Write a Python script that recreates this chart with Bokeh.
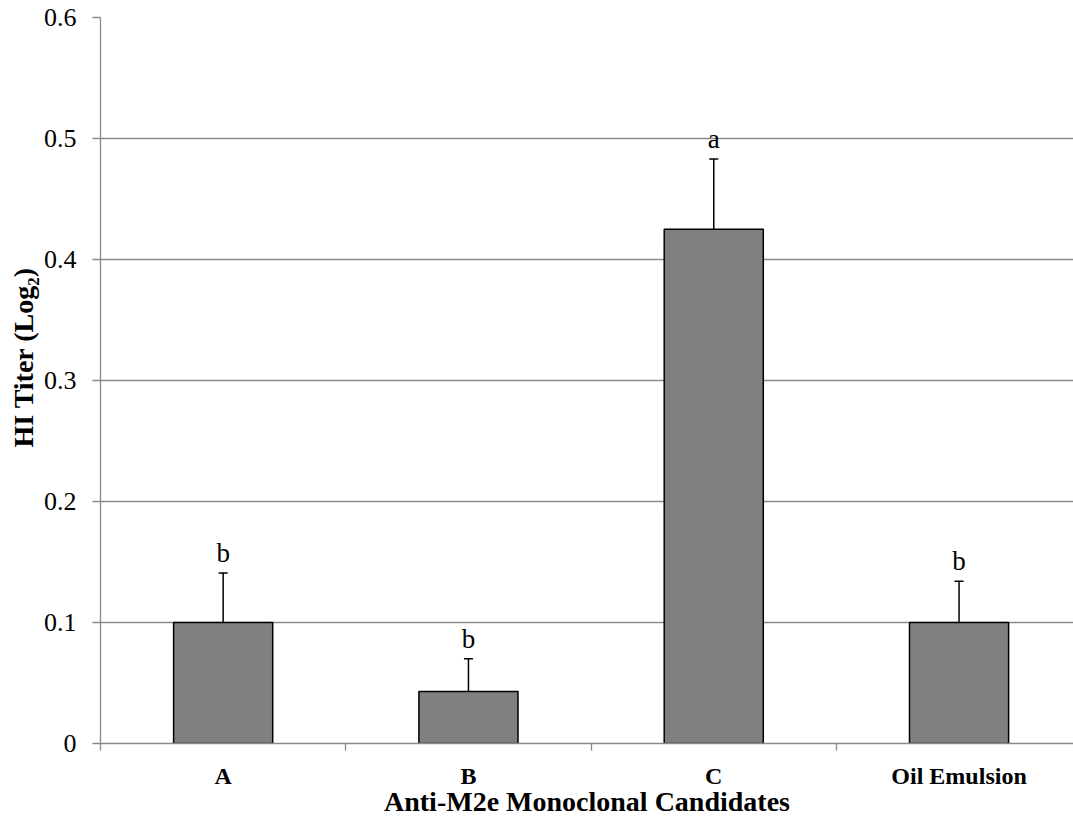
from bokeh.plotting import figure
from bokeh.models import Range1d, FixedTicker, Whisker, TeeHead, ColumnDataSource, LinearAxis, Grid, Title
from bokeh.core.properties import value
from bokeh.embed import file_html
from bokeh.resources import INLINE

categories = ["A", "B", "C", "Oil Emulsion"]
means = [0.100, 0.043, 0.425, 0.100]
errors = [0.041, 0.027, 0.058, 0.034]
letters = ["b", "b", "a", "b"]
y_ticks = [0, 0.1, 0.2, 0.3, 0.4, 0.5, 0.6]
y_tick_labels = ["0", "0.1", "0.2", "0.3", "0.4", "0.5", "0.6"]
x_title = "Anti-M2e Monoclonal Candidates"
y_title = "HI Titer (Log\u2082)"

xs = [i + 0.5 for i in range(len(categories))]
tops = [m + e for m, e in zip(means, errors)]
label_y = [t + 0.0165 for t in tops]
src = ColumnDataSource(dict(x=xs, mean=means, top=tops, ly=label_y, letter=letters))

FONT = "Liberation Serif"
GRAY = "#8a8a8a"

p = figure(width=1073, height=819, output_backend="svg", toolbar_location=None,
           x_range=Range1d(0, 973 / 245.3), y_range=Range1d(0, 0.6),
           x_axis_type=None, y_axis_type=None,
           min_border_left=100, min_border_right=0, min_border_top=17, min_border_bottom=75)
p.outline_line_color = None
p.background_fill_color = "white"
p.border_fill_color = "white"

# y axis
yaxis = LinearAxis(ticker=FixedTicker(ticks=y_ticks, minor_ticks=[]))
yaxis.major_label_overrides = {t: l for t, l in zip(y_ticks, y_tick_labels)}
yaxis.axis_line_color = GRAY
yaxis.axis_line_width = 1.3
yaxis.major_tick_line_color = GRAY
yaxis.major_tick_line_width = 1.3
yaxis.major_tick_out = 8
yaxis.major_tick_in = 0
yaxis.minor_tick_line_color = None
yaxis.major_label_standoff = 16
yaxis.major_label_text_font = FONT
yaxis.major_label_text_font_size = "26px"
yaxis.major_label_text_color = "black"
p.add_layout(yaxis, "left")

p.add_layout(Title(text=y_title, align="left", offset=296, standoff=4,
                   text_font=FONT, text_font_style="bold", text_font_size="28px",
                   text_color="black"), "left")

# x axis
xaxis = LinearAxis(ticker=FixedTicker(ticks=xs, minor_ticks=[0, 1, 2, 3, 4]))
xaxis.major_label_overrides = {x: c for x, c in zip(xs, categories)}
xaxis.axis_line_color = GRAY
xaxis.axis_line_width = 1.3
xaxis.major_tick_line_color = None
xaxis.minor_tick_line_color = GRAY
xaxis.minor_tick_line_width = 1.3
xaxis.minor_tick_out = 7
xaxis.minor_tick_in = 0
xaxis.major_label_standoff = 12
xaxis.major_label_text_font = FONT
xaxis.major_label_text_font_style = "bold"
xaxis.major_label_text_font_size = "24px"
xaxis.major_label_text_color = "black"
xaxis.axis_label = x_title
xaxis.axis_label_text_font = FONT
xaxis.axis_label_text_font_style = "bold"
xaxis.axis_label_text_font_size = "28px"
xaxis.axis_label_text_color = "black"
xaxis.axis_label_standoff = -6
p.add_layout(xaxis, "below")

# horizontal gridlines
p.ygrid.grid_line_color = None
p.xgrid.grid_line_color = None
g = Grid(dimension=1, ticker=FixedTicker(ticks=y_ticks), grid_line_color=GRAY, grid_line_width=1.3)
p.add_layout(g)

p.vbar(x="x", top="mean", bottom=0, width=0.404, source=src,
       fill_color="#808080", line_color="black", line_width=1.5)

w = Whisker(base="x", lower="mean", upper="top", source=src,
            line_color="black", line_width=1.5,
            upper_head=TeeHead(size=9, line_color="black", line_width=1.5),
            lower_head=None)
p.add_layout(w)

p.text(x="x", y="ly", text="letter", source=src,
       text_align="center", text_baseline="middle",
       text_font=value(FONT), text_font_size="27px", text_color="black")

open("out.html", "w").write(file_html(p, INLINE))
